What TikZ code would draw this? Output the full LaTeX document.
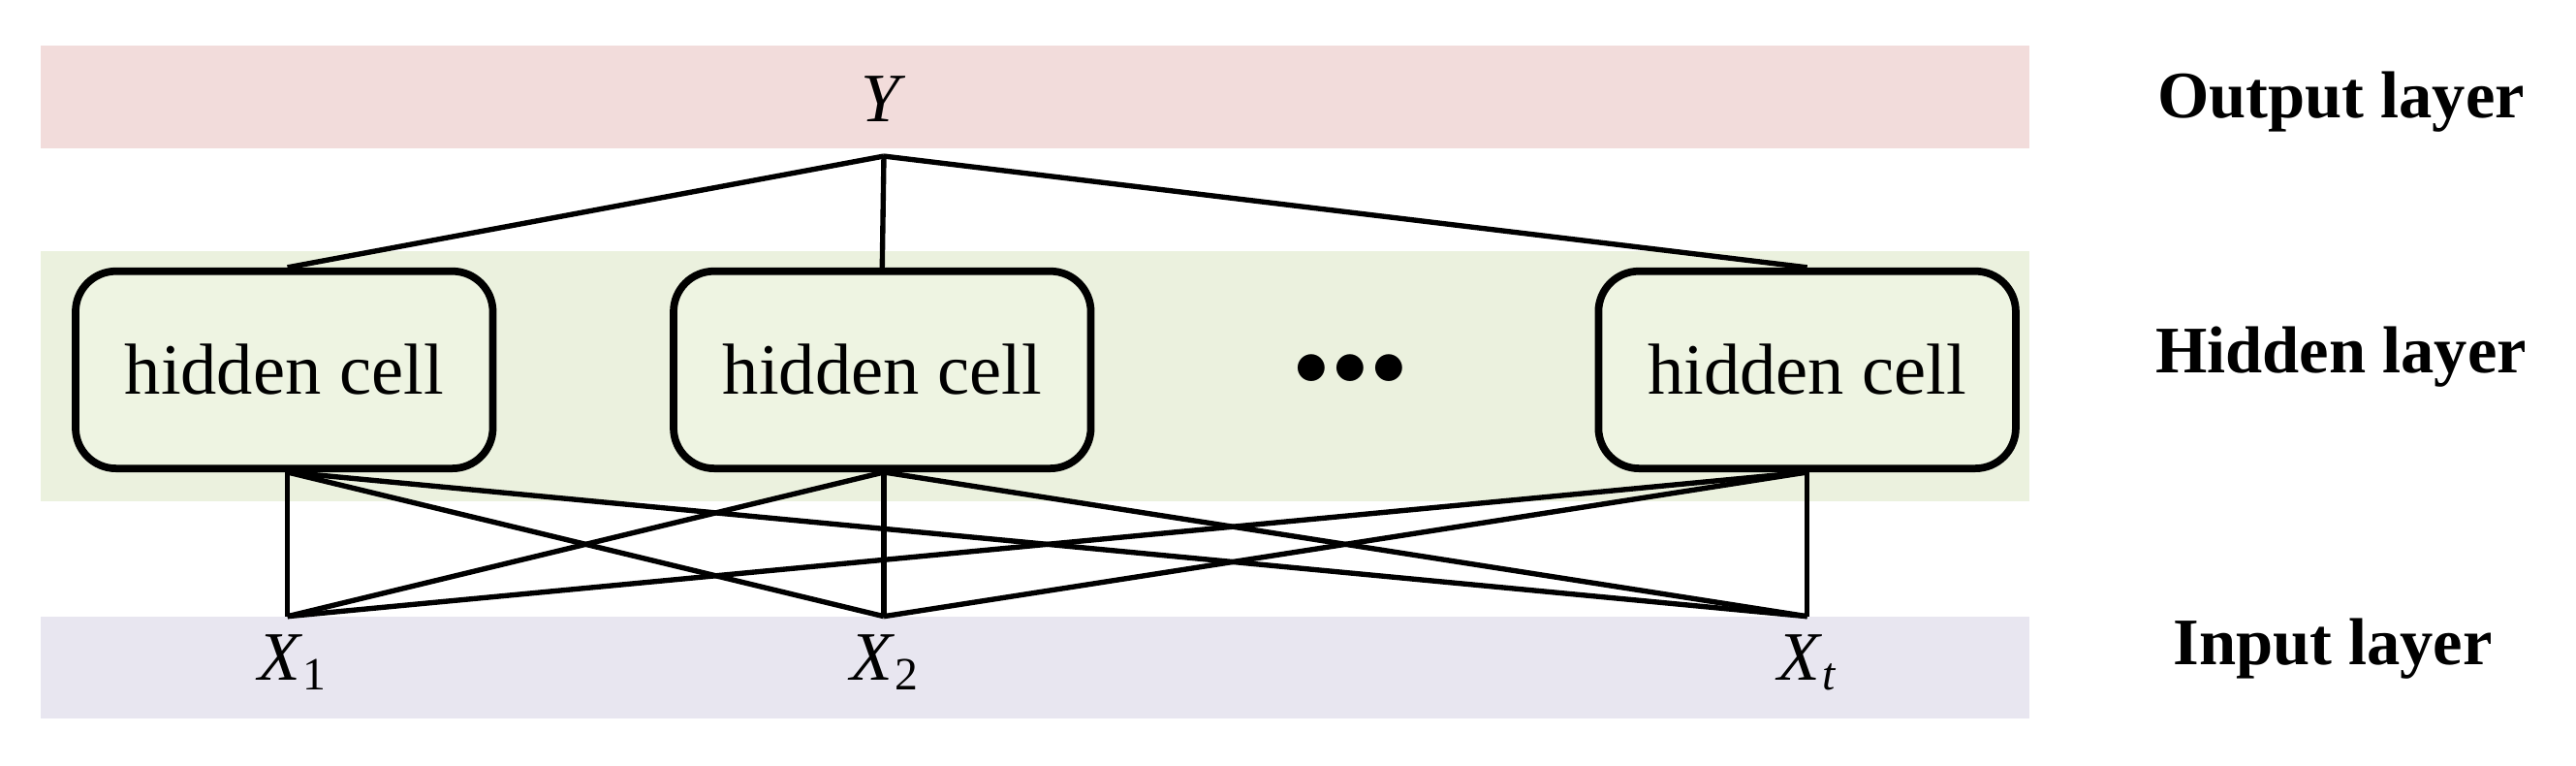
\documentclass[tikz,border=0pt]{standalone}
\usepackage{fontspec}
\setmainfont{Liberation Serif}
\definecolor{pinkb}{RGB}{242,220,219}
\definecolor{greenb}{RGB}{235,241,222}
\definecolor{cellf}{RGB}{238,244,226}
\definecolor{lavb}{RGB}{232,230,240}
\begin{document}
\begin{tikzpicture}[x=0.01cm,y=-0.01cm,
  cell/.style={draw,line width=1.3pt,rounded corners=7pt,fill=cellf,minimum width=254*0.01cm,minimum height=120*0.01cm,font=\fontsize{12.5}{14}\selectfont},
  lay/.style={font=\bfseries\fontsize{11.5}{13}\selectfont},
  xl/.style={font=\fontsize{12}{14}\selectfont},
  ln/.style={line width=0.9pt}]
\useasboundingbox (0,0) rectangle (1568,466);
\fill[pinkb] (25,28) rectangle (1235,90);
\fill[greenb] (25,153) rectangle (1235,305);
\fill[lavb] (25,375) rectangle (1235,437);
\node[xl] (Y) at (538,60) {\textit{Y}};
\coordinate (yt) at (538,95);
\node[cell] (c1) at (173,225) {hidden cell};
\node[cell] (c2) at (537,225) {hidden cell};
\node[cell] (c3) at (1100,225) {hidden cell};
\node[font=\fontsize{12}{14}\selectfont] (dots) at (822,225) {\textbf{$\bullet\!\bullet\!\bullet$}};
\coordinate (x1) at (175,375);
\coordinate (x2) at (538,375);
\coordinate (x3) at (1100,375);
\node[xl] (l1) at (178,403) {\textit{X}\raisebox{-0.3ex}{\footnotesize 1}};
\node[xl] (l2) at (538,403) {\textit{X}\raisebox{-0.3ex}{\footnotesize 2}};
\node[xl] (l3) at (1100,403) {\textit{X}\raisebox{-0.3ex}{\footnotesize\textit{t}}};
\draw[ln] (yt) -- (c1.north -| x1);
\draw[ln] (yt) -- (c2.north);
\draw[ln] (yt) -- (c3.north -| x3);
\foreach \c/\xx in {c1/x1,c2/x2,c3/x3}{
  \foreach \t in {x1,x2,x3}{
    \draw[ln] (\c.south -| \xx) -- (\t);
  }
}
\node[lay] (o) at (1425,62) {Output layer};
\node[lay] (h) at (1425,217) {Hidden layer};
\node[lay] (i) at (1420,395) {Input layer};
\end{tikzpicture}
\end{document}
